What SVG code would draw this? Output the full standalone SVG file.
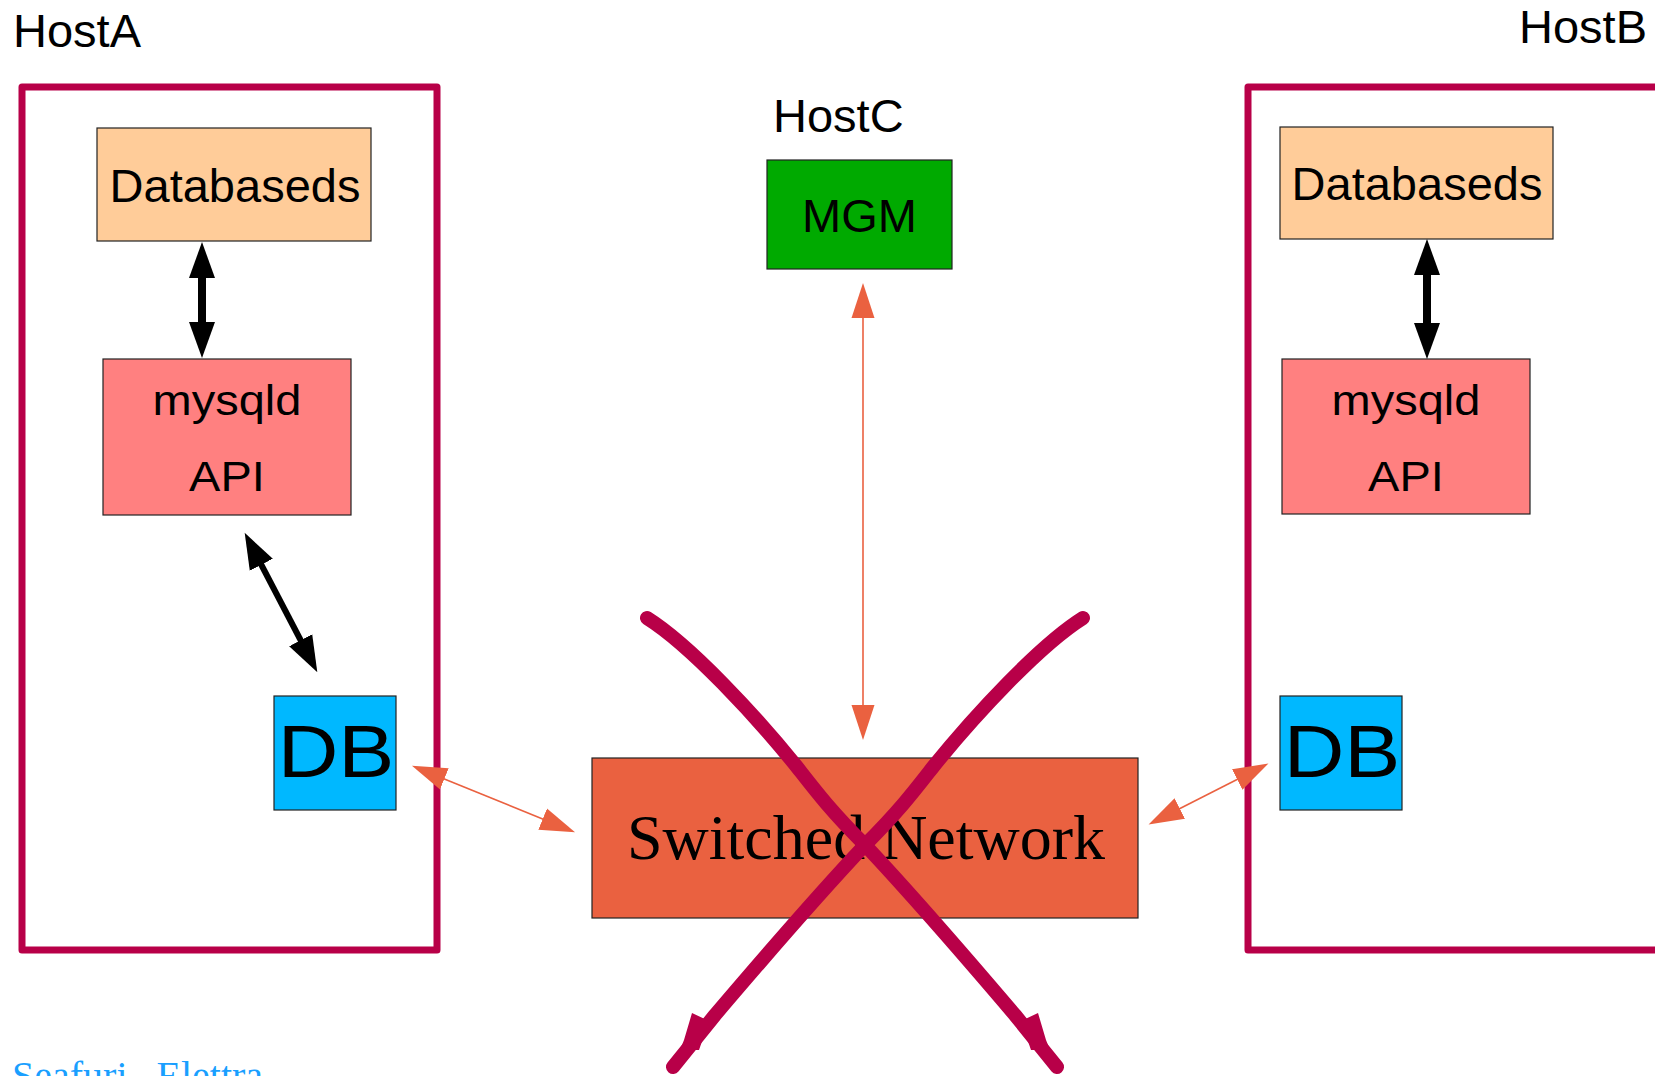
<svg xmlns="http://www.w3.org/2000/svg" width="1655" height="1076" viewBox="0 0 1655 1076">
<style>
.sans{font-family:"Liberation Sans",Arial,sans-serif;fill:#000}
.serif{font-family:"Liberation Serif","Times New Roman",serif}
.host{fill:none;stroke:#b80048;stroke-width:7;stroke-linejoin:round}
.box{stroke:#222;stroke-width:1.2}
.blk{stroke:#000;fill:none}
.org{stroke:#ea6140;stroke-width:1.6;fill:none}
.cross{fill:none;stroke:#b80048;stroke-width:14;stroke-linecap:round;stroke-linejoin:round}
</style>
<defs>
<marker id="bh" markerUnits="userSpaceOnUse" markerWidth="40" markerHeight="30" refX="2" refY="13" orient="auto-start-reverse" viewBox="0 0 40 26">
<path d="M0,0 L36,13 L0,26 Z" fill="#000"/>
</marker>
<marker id="oh" markerUnits="userSpaceOnUse" markerWidth="40" markerHeight="26" refX="2" refY="11.5" orient="auto-start-reverse" viewBox="0 0 40 23">
<path d="M0,0 L35,11.5 L0,23 Z" fill="#ea6140"/>
</marker>
<path id="stroke1" d="M647,618 C690,645 755,715 797,767 C815,790 830,810 865,845 C915,898 975,968 1015,1015 L1057,1067"/>
</defs>

<g id="hostA">
<text class="sans" x="13" y="47" font-size="47">HostA</text>
<rect class="host" x="22" y="87" width="415" height="863"/>
</g>
<g id="hostB">
<text class="sans" x="1519" y="43" font-size="47">HostB</text>
<rect class="host" x="1248" y="87" width="500" height="863"/>
</g>
<g id="hostC">
<text class="sans" x="773" y="132" font-size="47">HostC</text>
</g>

<g id="databasedsA">
<rect class="box" x="97" y="128" width="274" height="113" fill="#ffcc99"/>
<text class="sans" x="235" y="202" font-size="47" text-anchor="middle">Databaseds</text>
</g>
<g id="databasedsB">
<rect class="box" x="1280" y="127" width="273" height="112" fill="#ffcc99"/>
<text class="sans" x="1417" y="200" font-size="47" text-anchor="middle">Databaseds</text>
</g>
<g id="mysqldA">
<rect class="box" x="103" y="359" width="248" height="156" fill="#ff8080"/>
<text class="sans" font-size="47" text-anchor="middle" transform="translate(227,415) scale(1,0.9)">mysqld</text>
<text class="sans" font-size="47" text-anchor="middle" transform="translate(227,491) scale(1,0.9)">API</text>
</g>
<g id="mysqldB">
<rect class="box" x="1282" y="359" width="248" height="155" fill="#ff8080"/>
<text class="sans" font-size="47" text-anchor="middle" transform="translate(1406,415) scale(1,0.9)">mysqld</text>
<text class="sans" font-size="47" text-anchor="middle" transform="translate(1406,491) scale(1,0.9)">API</text>
</g>
<g id="dbA">
<rect class="box" x="274" y="696" width="122" height="114" fill="#00b8ff"/>
<text class="sans" font-size="84" text-anchor="middle" transform="translate(336,777) scale(1,0.88)">DB</text>
</g>
<g id="dbB">
<rect class="box" x="1280" y="696" width="122" height="114" fill="#00b8ff"/>
<text class="sans" font-size="84" text-anchor="middle" transform="translate(1342,777) scale(1,0.88)">DB</text>
</g>
<g id="mgm">
<rect class="box" x="767" y="160" width="185" height="109" fill="#00aa00"/>
<text class="sans" x="859.5" y="232" font-size="47" text-anchor="middle">MGM</text>
</g>
<g id="network">
<rect class="box" x="592" y="758" width="546" height="160" fill="#ea6140"/>
<text class="serif" x="866" y="859" font-size="64" text-anchor="middle" fill="#000">Switched Network</text>
</g>

<g id="connectors">
<line class="blk" stroke-width="8" x1="202" y1="276" x2="202" y2="324" marker-start="url(#bh)" marker-end="url(#bh)"/>
<line class="blk" stroke-width="8" x1="1427" y1="273" x2="1427" y2="325" marker-start="url(#bh)" marker-end="url(#bh)"/>
<line class="blk" stroke-width="6" x1="260.4" y1="563" x2="301.6" y2="642" marker-start="url(#bh)" marker-end="url(#bh)"/>
<line class="org" x1="442.5" y1="778.2" x2="544.5" y2="819.8" marker-start="url(#oh)" marker-end="url(#oh)"/>
<line class="org" x1="1239" y1="778.5" x2="1178" y2="809.5" marker-start="url(#oh)" marker-end="url(#oh)"/>
<line class="org" x1="863" y1="316" x2="863" y2="707" marker-start="url(#oh)" marker-end="url(#oh)"/>
</g>

<g id="cross">
<use href="#stroke1" class="cross"/>
<polygon points="1038,1013 1021,1021 1031,1050 1050,1050 1046,1040" fill="#b80048"/>
<g transform="translate(1730,0) scale(-1,1)">
<use href="#stroke1" class="cross"/>
<polygon points="1038,1013 1021,1021 1031,1050 1050,1050 1046,1040" fill="#b80048"/>
</g>
</g>

<text class="serif" x="12" y="1089" font-size="40" fill="#1a9fff" word-spacing="19">Seafuri Elettra</text>
</svg>
